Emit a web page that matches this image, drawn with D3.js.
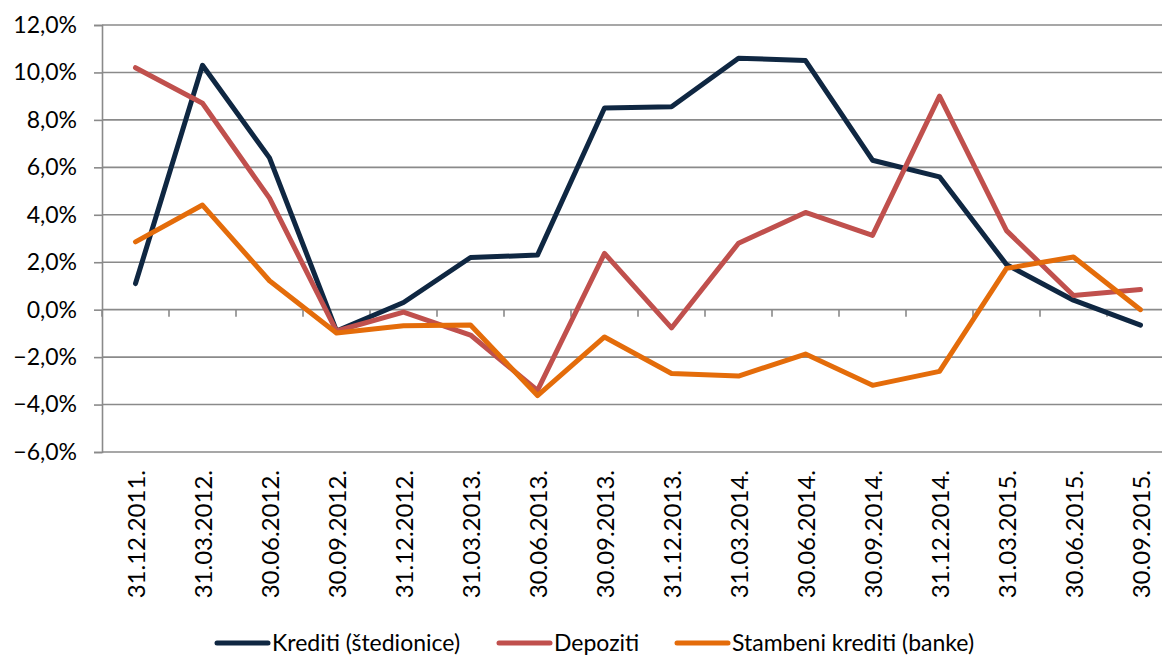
<!DOCTYPE html>
<html>
<head>
<meta charset="utf-8">
<script src="https://cdn.jsdelivr.net/npm/d3@7/dist/d3.min.js"></script>
<style>
  html, body { margin: 0; padding: 0; background: #fff; }
  svg { display: block; font-family: Lato, "Open Sans", sans-serif; }
</style>
</head>
<body>
<svg id="chart" width="1162" height="655"></svg>
<script>
// Quarter-end dates
const categories = [
  "31.12.2011.", "31.03.2012.", "30.06.2012.", "30.09.2012.",
  "31.12.2012.", "31.03.2013.", "30.06.2013.", "30.09.2013.",
  "31.12.2013.", "31.03.2014.", "30.06.2014.", "30.09.2014.",
  "31.12.2014.", "31.03.2015.", "30.06.2015.", "30.09.2015."
];

// Growth rates, in percent
const kreditiStedionice = [1.1, 10.3, 6.4, -0.9, 0.3, 2.2, 2.3, 8.5, 8.55, 10.6, 10.5, 6.3, 5.6, 1.9, 0.4, -0.65];
const depoziti = [10.2, 8.7, 4.7, -0.9, -0.1, -1.07, -3.4, 2.37, -0.77, 2.8, 4.1, 3.13, 9.0, 3.33, 0.6, 0.85];
const stambeniKrediti = [2.86, 4.41, 1.22, -0.98, -0.68, -0.65, -3.62, -1.15, -2.69, -2.8, -1.87, -3.19, -2.6, 1.74, 2.22, 0.0];

const yTicks = [-6, -4, -2, 0, 2, 4, 6, 8, 10, 12];

const seriesNames = ["Krediti (štedionice)", "Depoziti", "Stambeni krediti (banke)"];
const seriesColors = ["#0f2742", "#c0504d", "#e46c0a"];
const seriesValues = [kreditiStedionice, depoziti, stambeniKrediti];

const svg = d3.select("#chart");
const plotLeft = 102, plotTop = 25, plotBottom = 452;
const step = 67;
const fontSize = 23;

const x = d3.scaleBand().domain(categories).range([plotLeft, plotLeft + step * categories.length]).padding(0);
const y = d3.scaleLinear().domain([-6, 12]).range([plotBottom, plotTop]);

const gridColor = "#8a8a8a";
const fmt = v => d3.format(".1f")(v).replace(".", ",") + "%";

// Horizontal gridlines
svg.append("g")
  .selectAll("line")
  .data(yTicks)
  .join("line")
  .attr("x1", plotLeft).attr("x2", 1162)
  .attr("y1", d => y(d)).attr("y2", d => y(d))
  .attr("stroke", gridColor).attr("stroke-width", 1.6);

// Y axis
const yAxis = svg.append("g")
  .attr("transform", `translate(${plotLeft},0)`)
  .call(d3.axisLeft(y).tickValues(yTicks).tickFormat(fmt).tickSize(8).tickPadding(17));
yAxis.select(".domain").attr("stroke", gridColor).attr("stroke-width", 1.6);
yAxis.selectAll(".tick line").attr("stroke", gridColor).attr("stroke-width", 1.6);
yAxis.selectAll(".tick text").attr("font-size", fontSize).attr("fill", "#000").attr("font-family", "Lato, sans-serif");

// Category axis on the zero line: ticks at band boundaries
const boundaries = d3.range(categories.length + 1).map(i => plotLeft + i * step);
svg.append("g")
  .selectAll("line")
  .data(boundaries)
  .join("line")
  .attr("x1", d => d).attr("x2", d => d)
  .attr("y1", y(0)).attr("y2", y(0) + 7)
  .attr("stroke", gridColor).attr("stroke-width", 1.6);

// Rotated category labels
svg.append("g")
  .selectAll("text")
  .data(categories)
  .join("text")
  .attr("transform", d => `translate(${x(d) + x.bandwidth() / 2 + 9},470) rotate(-90)`)
  .attr("text-anchor", "end")
  .attr("font-size", 24)
  .attr("fill", "#000")
  .text(d => d);

// Series lines
const line = d3.line()
  .x((d, i) => x(categories[i]) + x.bandwidth() / 2)
  .y(d => y(d));

svg.append("g")
  .selectAll("path")
  .data(seriesValues)
  .join("path")
  .attr("d", d => line(d))
  .attr("fill", "none")
  .attr("stroke", (d, i) => seriesColors[i])
  .attr("stroke-width", 5)
  .attr("stroke-linejoin", "round")
  .attr("stroke-linecap", "round");

// Legend
const legend = svg.append("g").attr("transform", "translate(0,643)");
const legendStarts = [215, 497, 675];
seriesNames.forEach((name, i) => {
  const g = legend.append("g").attr("transform", `translate(${legendStarts[i]},0)`);
  g.append("line")
    .attr("x1", 2).attr("x2", 53)
    .attr("stroke", seriesColors[i]).attr("stroke-width", 5).attr("stroke-linecap", "round");
  g.append("text")
    .attr("x", 57).attr("y", 8)
    .attr("font-size", fontSize)
    .attr("fill", "#000")
    .text(name);
});
</script>
</body>
</html>
